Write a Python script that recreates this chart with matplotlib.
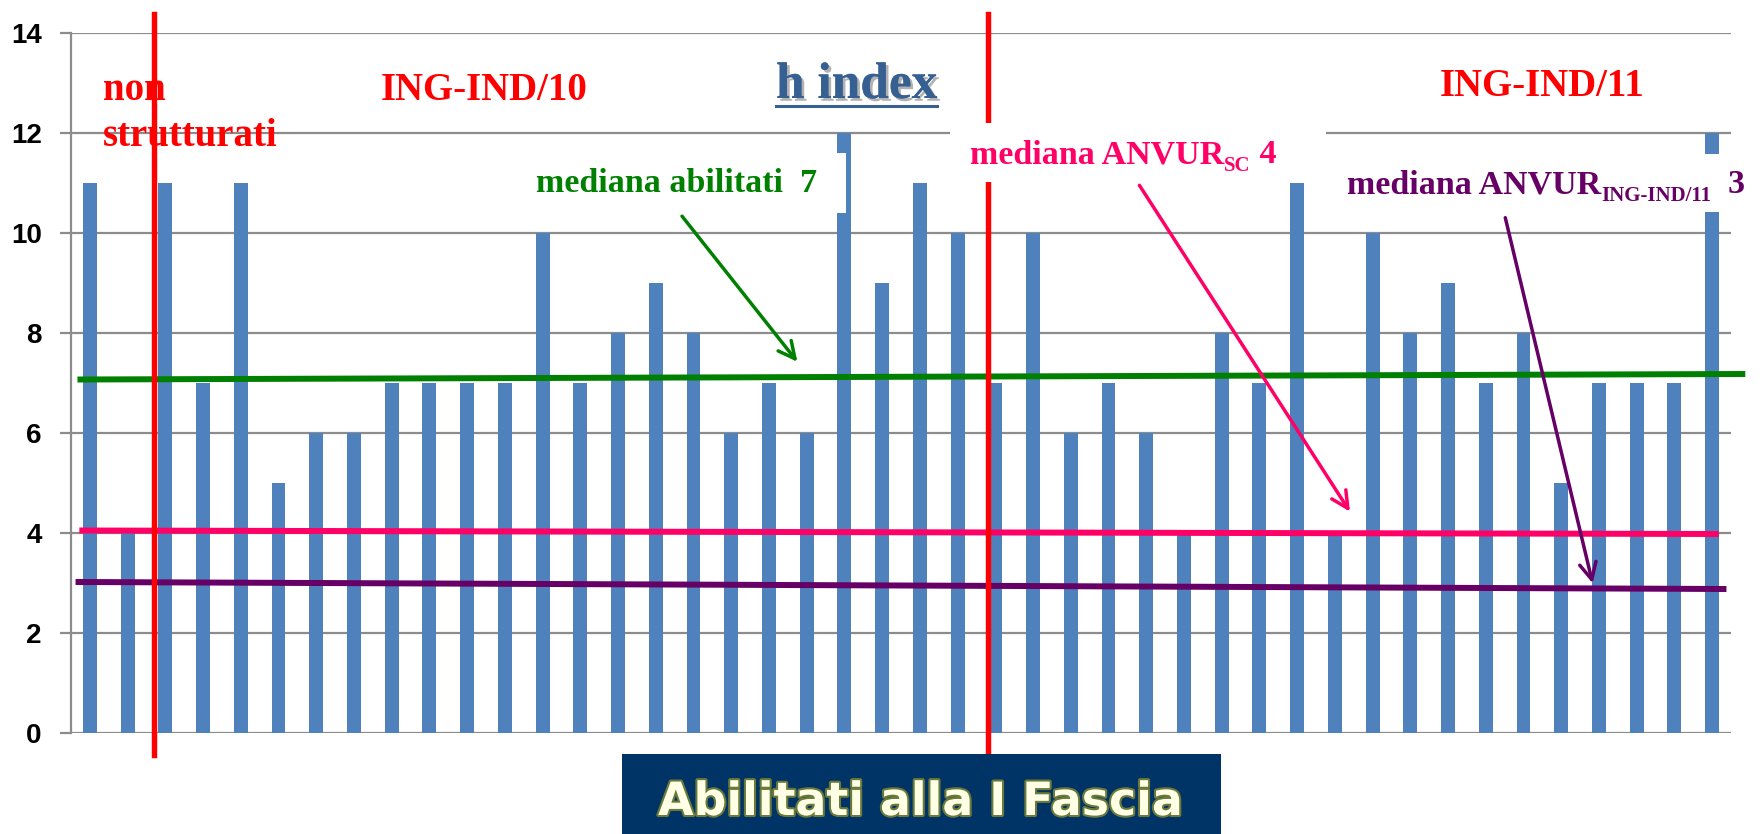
import matplotlib
matplotlib.use('Agg')
import matplotlib.pyplot as plt
import matplotlib.patheffects as pe
from matplotlib.patches import Rectangle
from matplotlib.lines import Line2D

# h index di ciascun abilitato (ordine del grafico)
h_index = [11, 4, 11, 7, 11, 5, 6, 6, 7, 7, 7, 7, 10, 7, 8, 9, 8, 6, 7, 6, 12, 9,
           11, 10, 7, 10, 6, 7, 6, 4, 8, 7, 11, 4, 10, 8, 9, 7, 8, 5, 7, 7, 7, 12]
y_ticks = [0, 2, 4, 6, 8, 10, 12, 14]

# linee disegnate a mano sulla slide (estremi)
med_abilitati = [7.07, 7.18]
med_sc = [4.05, 3.98]
med_ssd = [3.02, 2.88]
separatori = [1.7, 23.8]

W, H = 1764, 834


def fx(x):
    return x / W


def fy(y):
    return 1 - y / H


fig = plt.figure(figsize=(W / 100, H / 100), dpi=100)
ax = fig.add_axes([fx(71), fy(733), (1731 - 71) / W, (733 - 33) / H])

ax.bar(range(len(h_index)), h_index, width=0.37, color='#4F81BD', zorder=2)
ax.set_xlim(-0.5, len(h_index) - 0.5)
ax.set_ylim(0, 14)
ax.set_yticks(y_ticks)
ax.set_yticklabels([str(v) for v in y_ticks], fontsize=20, fontweight='bold',
                   family=['Liberation Sans Narrow', 'Liberation Sans'])
ax.set_xticks([])
ax.yaxis.grid(True, color='#8C8C8C', lw=1.6, zorder=0)
ax.set_axisbelow(True)
for s in ['top', 'right', 'bottom']:
    ax.spines[s].set_visible(False)
ax.spines['left'].set_color('#8C8C8C')
ax.spines['left'].set_linewidth(1.6)
ax.tick_params(axis='y', length=8, width=1.6, color='#8C8C8C', pad=13)

# mediane
ax.plot([-0.25, 43.8], med_abilitati, color='#008000', lw=4.3, clip_on=False, zorder=4)
ax.plot([-0.2, 43.1], med_sc, color='#FF0066', lw=4.3, clip_on=False, zorder=4)
ax.plot([-0.3, 43.3], med_ssd, color='#660066', lw=4.3, clip_on=False, zorder=4)

# separatori settori
for xs in separatori:
    ax.plot([xs, xs], [-0.44, 14.38], color='#FF0000', lw=3.9, clip_on=False, zorder=5)

# frecce
ax.annotate('', xy=(18.8, 7.38), xytext=(15.65, 10.38), annotation_clip=False,
            arrowprops=dict(arrowstyle='->', color='#008000', lw=2.5, mutation_scale=30), zorder=6)
ax.annotate('', xy=(33.44, 4.38), xytext=(27.78, 11.0), annotation_clip=False,
            arrowprops=dict(arrowstyle='->', color='#FF0066', lw=2.5, mutation_scale=30), zorder=6)
ax.annotate('', xy=(39.85, 2.94), xytext=(37.5, 10.36), annotation_clip=False,
            arrowprops=dict(arrowstyle='->', color='#660066', lw=2.5, mutation_scale=30), zorder=6)

# riquadri bianchi dietro le scritte
for x0, y0, x1, y1 in [(530, 153, 846, 213), (950, 123, 1326, 182), (1330, 154, 1764, 212)]:
    ax.add_patch(Rectangle((fx(x0), fy(y1)), (x1 - x0) / W, (y1 - y0) / H, facecolor='white',
                           edgecolor='none', transform=fig.transFigure, clip_on=False, zorder=7))

serif = dict(family='Liberation Serif', fontweight='bold', va='baseline', zorder=8)
fig.text(fx(103), fy(100), 'non', color='#FF0000', fontsize=28, **serif)
fig.text(fx(103), fy(146), 'strutturati', color='#FF0000', fontsize=28, **serif)
fig.text(fx(484), fy(100), 'ING-IND/10', color='#FF0000', fontsize=28, ha='center', **serif)
fig.text(fx(1542), fy(96), 'ING-IND/11', color='#FF0000', fontsize=28, ha='center', **serif)
fig.text(fx(536), fy(192), 'mediana abilitati  7', color='#008000', fontsize=24.5, **serif)

renderer = fig.canvas.get_renderer()


def rich(x, y, parts, color):
    for s, size, dy in parts:
        t = fig.text(fx(x), fy(y + dy), s, color=color, fontsize=size, **serif)
        x = t.get_window_extent(renderer).x1


rich(970, 163, [('mediana ANVUR', 24.5, 0), ('SC', 15, 8), (' 4', 24.5, 0)], '#FF0066')
rich(1347, 193, [('mediana ANVUR', 24.5, 0), ('ING-IND/11', 15, 8), ('  3', 24.5, 0)], '#660066')

# titolo h index
t = fig.text(fx(776), fy(98), 'h index', color='#376092', fontsize=37, **serif)
t.set_path_effects([pe.withSimplePatchShadow(offset=(2, -2), shadow_rgbFace='#7f7f7f', alpha=0.6), pe.Normal()])
bb = t.get_window_extent(renderer)
fig.add_artist(Line2D([fx(bb.x0), fx(bb.x1)], [fy(106), fy(106)], color='#376092', lw=2.2))

# riquadro in basso
fig.add_artist(Rectangle((fx(622), 0), (1221 - 622) / W, (834 - 754) / H, facecolor='#003366',
                         edgecolor='none', transform=fig.transFigure))
fig.text(fx(921), fy(815), 'Abilitati alla I Fascia', color='#FFFFE6', fontsize=33, ha='center',
         va='baseline', family='DejaVu Sans', fontweight='bold',
         path_effects=[pe.withStroke(linewidth=3, foreground='#6B7A3A')])

fig.savefig('out.png', dpi=100)
